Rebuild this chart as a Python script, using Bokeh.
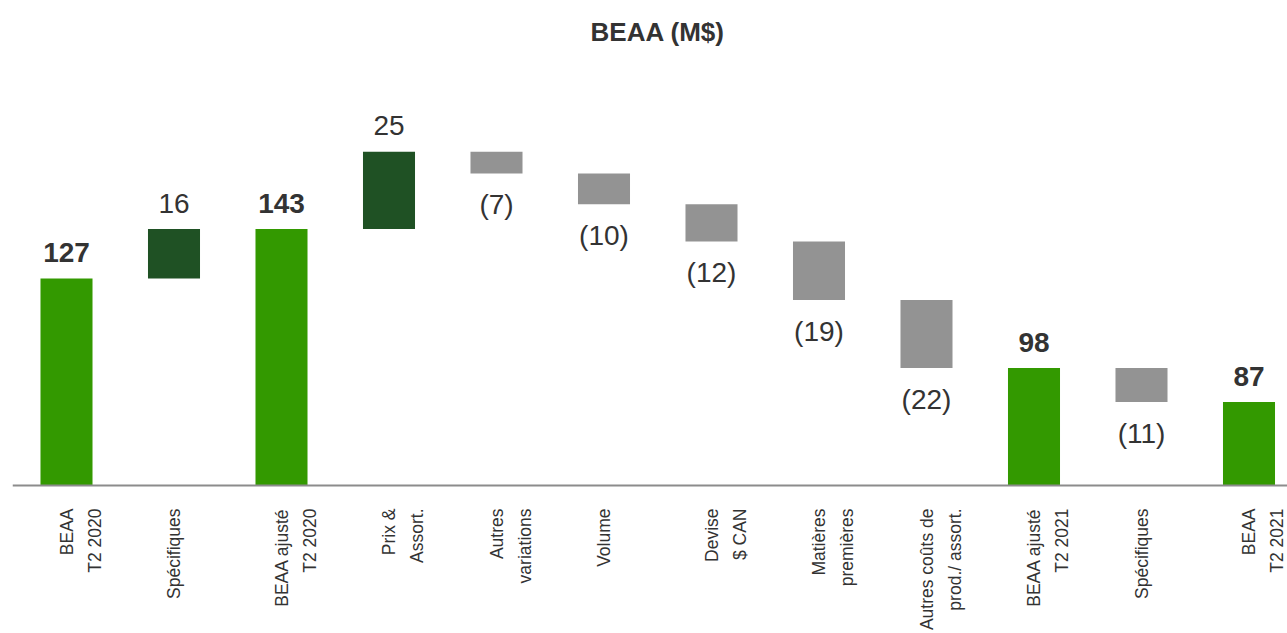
from bokeh.plotting import figure
from bokeh.models import ColumnDataSource, Range1d
from bokeh.core.properties import value
from bokeh.embed import file_html
from bokeh.resources import INLINE

# --- data -----------------------------------------------------------------
categories = [
    "BEAA\nT2 2020", "Spécifiques", "BEAA ajusté\nT2 2020", "Prix &\nAssort.",
    "Autres\nvariations", "Volume", "Devise\n$ CAN", "Matières\npremières",
    "Autres coûts de\nprod./ assort.", "BEAA ajusté\nT2 2021", "Spécifiques",
    "BEAA\nT2 2021",
]
amounts = [127, 16, 143, 25, -7, -10, -12, -19, -22, 98, -11, 87]
is_total = [True, False, True, False, False, False, False, False, False,
            True, False, True]
axis_min = 60
title_text = "BEAA (M$)"

# --- styling --------------------------------------------------------------
TOTAL_COLOR = "#339900"
UP_COLOR = "#1f5124"
DOWN_COLOR = "#939393"
TEXT_COLOR = "#333333"
FONT = "Liberation Sans"

# --- waterfall geometry ----------------------------------------------------
n = len(categories)
xs, bottoms, tops, colors = [], [], [], []
running = 0
for i, (amt, tot) in enumerate(zip(amounts, is_total)):
    if tot:
        lo, hi, col = axis_min, amt, TOTAL_COLOR
        running = amt
    else:
        start, end = running, running + amt
        lo, hi = min(start, end), max(start, end)
        col = UP_COLOR if amt > 0 else DOWN_COLOR
        running = end
    xs.append(i)
    bottoms.append(lo)
    tops.append(hi)
    colors.append(col)

bars = ColumnDataSource(dict(x=xs, bottom=bottoms, top=tops, color=colors))

# value labels: above for totals / increases, below for decreases
lab_x, lab_y, lab_t, lab_off, lab_style = [], [], [], [], []
for i, (amt, tot) in enumerate(zip(amounts, is_total)):
    lab_x.append(i)
    if amt >= 0:
        lab_y.append(tops[i])
        lab_off.append(-26)
        lab_t.append(str(amt))
    else:
        lab_y.append(bottoms[i])
        lab_off.append(31)
        lab_t.append(f"({abs(amt)})")
    lab_style.append("bold" if tot else "normal")

vals = ColumnDataSource(dict(x=lab_x, y=lab_y, text=lab_t, yoff=lab_off,
                             style=lab_style))

# category labels, one entry per text line (rotated, stacked to the right)
cat_x, cat_t, cat_off = [], [], []
for i, c in enumerate(categories):
    for j, line in enumerate(c.split("\n")):
        cat_x.append(i)
        cat_t.append(line)
        cat_off.append(28 * j)
cats = ColumnDataSource(dict(x=cat_x, y=[axis_min] * len(cat_x), text=cat_t,
                             xoff=cat_off))

# --- figure -----------------------------------------------------------------
W, H = 1287, 633
band_px = 107.5
left_px = 12.25
x_start = -0.5 - left_px / band_px
x_end = x_start + W / band_px

px_per_unit = 3.09
baseline_px = 485
y_end = axis_min + baseline_px / px_per_unit
y_start = axis_min - (H - baseline_px) / px_per_unit

p = figure(width=W, height=H, output_backend="svg", toolbar_location=None,
           x_range=Range1d(x_start, x_end), y_range=Range1d(y_start, y_end),
           min_border=0, outline_line_color=None)
p.xaxis.visible = False
p.yaxis.visible = False
p.grid.visible = False
p.background_fill_color = "white"
p.border_fill_color = "white"

p.vbar(x="x", bottom="bottom", top="top", width=0.484, color="color",
       line_color=None, source=bars)

# category axis line
p.segment(x0=[-0.5], y0=[axis_min], x1=[n - 0.5], y1=[axis_min],
          line_color="#8c8c8c", line_width=2)

p.text(x="x", y="y", text="text", y_offset="yoff", source=vals,
       text_align="center", text_baseline="middle",
       text_font=value(FONT), text_font_size="28px",
       text_font_style="style", text_color=TEXT_COLOR)

p.text(x="x", y="y", text="text", x_offset="xoff", y_offset=23, source=cats,
       angle=1.5707963, text_align="right", text_baseline="middle",
       text_font=value(FONT), text_font_size="17.5px", text_color=TEXT_COLOR)

p.text(x=[(n - 1) / 2], y=[y_end], text=[title_text], y_offset=31,
       text_align="center", text_baseline="middle",
       text_font=value(FONT), text_font_size="26px",
       text_font_style="bold", text_color=TEXT_COLOR)

open("out.html", "w").write(file_html(p, INLINE))
